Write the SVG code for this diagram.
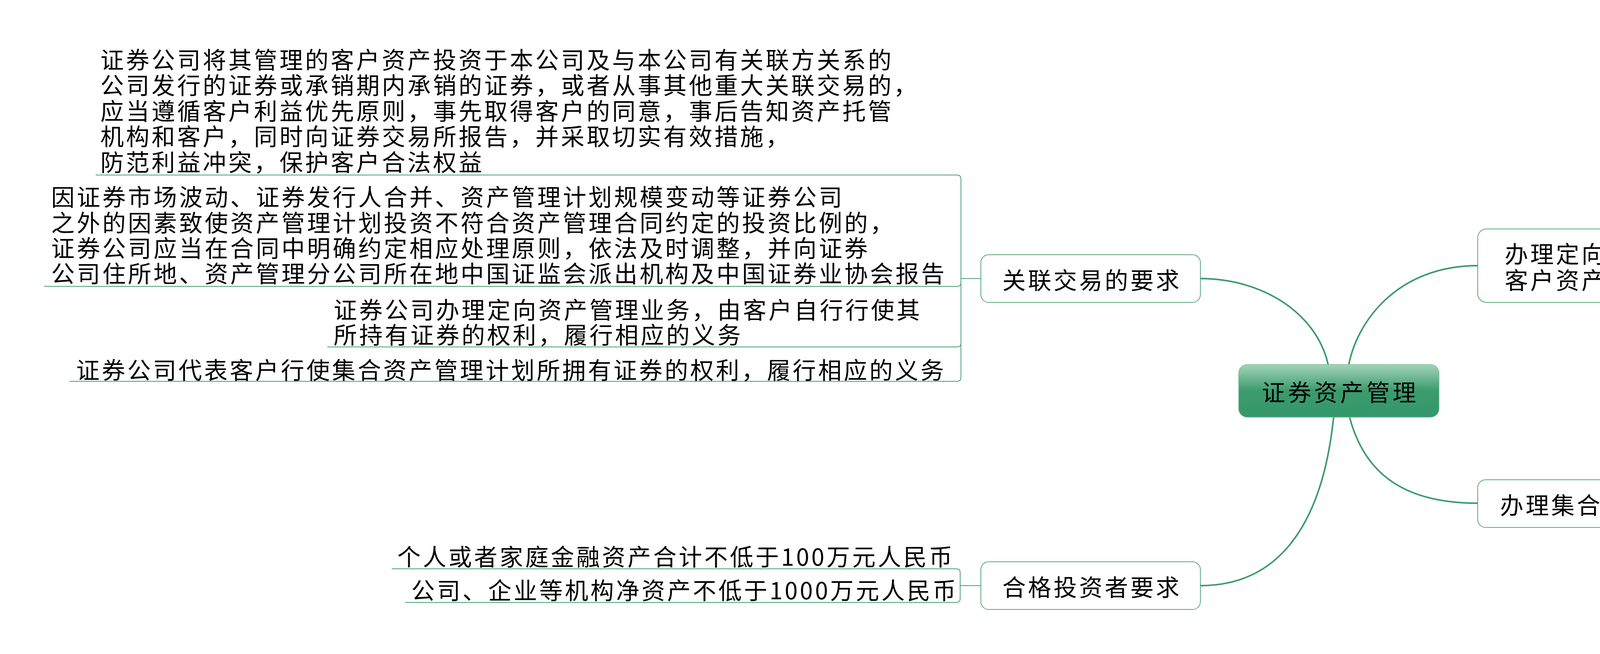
<svg xmlns="http://www.w3.org/2000/svg" width="6556" height="1674" viewBox="0 0 6556 1674">
<style>
.t{font-family:"Noto Sans CJK SC","Noto Sans CJK TC",sans-serif;font-size:60px;letter-spacing:5.5px;fill:#000;dominant-baseline:central}
.ct{font-family:"Noto Sans CJK SC","Noto Sans CJK TC",sans-serif;font-size:60px;letter-spacing:7px;fill:#000;dominant-baseline:central;text-anchor:middle}
.box{fill:#fff;stroke:#5aa982;stroke-width:2}
.main{fill:none;stroke:#3a9a6c;stroke-width:4}
.sub{fill:none;stroke:#4c9f79;stroke-width:2}
</style>
<defs>
<linearGradient id="g" x1="0" y1="0" x2="0" y2="1">
<stop offset="0" stop-color="#a2d4b8"/>
<stop offset="0.5" stop-color="#3b9b6c"/>
<stop offset="1" stop-color="#34986a"/>
</linearGradient>
</defs>
<rect width="6556" height="1674" fill="#fff"/>
<g id="connectors">
<path class="main" d="M3400,933 C3370,800 3230,713 3073,713"/>
<path class="main" d="M3453,933 C3475,820 3580,680 3783,680"/>
<path class="main" d="M3455,1068 C3490,1200 3580,1288 3783,1288"/>
<path class="main" d="M3414,1068 C3390,1300 3300,1499 3073,1499"/>
<path class="sub" d="M2511,713 H2460"/>
<path class="sub" d="M2460,713 V458 Q2460,448 2450,448 H245"/>
<path class="sub" d="M2460,713 V723 Q2460,733 2450,733 H113"/>
<path class="sub" d="M2460,713 V878 Q2460,888 2450,888 H838"/>
<path class="sub" d="M2460,713 V966 Q2460,976 2450,976 H178"/>
<path class="sub" d="M2511,1499 H2458"/>
<path class="sub" d="M2458,1499 V1466 Q2458,1456 2448,1456 H1003"/>
<path class="sub" d="M2458,1499 V1532 Q2458,1542 2448,1542 H1037"/>
<path class="sub" d="M4836,680 H4878 Q4884,680 4884,674 V668 Q4884,662 4890,662 H6440"/>
<path class="sub" d="M5005,1288 H5050 Q5056,1288 5056,1282 V1279 Q5056,1273 5062,1273 H6147"/>
</g>
<g id="root">
<rect x="3171" y="933" width="513" height="135" rx="22" fill="url(#g)" stroke="#7dbd9a" stroke-width="1.5"/>
<text class="ct" x="3431" y="1000">证券资产管理</text>
</g>
<g id="n-related">
<rect class="box" x="2511" y="652" width="562" height="122" rx="20"/>
<text class="t" x="2566" y="713">关联交易的要求</text>
</g>
<g id="n-qualified">
<rect class="box" x="2511" y="1438" width="562" height="122" rx="20"/>
<text class="t" x="2566" y="1499">合格投资者要求</text>
</g>
<g id="n-directed">
<rect class="box" x="3783" y="586" width="1053" height="188" rx="22"/>
<text class="t" x="3852" y="646">办理定向资产管理业务，接受</text>
<text class="t" x="3852" y="713">客户资产最低净值要求</text>
</g>
<g id="n-collective">
<rect class="box" x="3783" y="1228" width="1222" height="122" rx="20"/>
<text class="t" x="3840" y="1289">办理集合资产管理业务接受的资产形式</text>
</g>
<g id="c-related-1">
<text class="t" x="257" y="149">证券公司将其管理的客户资产投资于本公司及与本公司有关联方关系的</text>
<text class="t" x="257" y="214.5">公司发行的证券或承销期内承销的证券，或者从事其他重大关联交易的，</text>
<text class="t" x="257" y="280">应当遵循客户利益优先原则，事先取得客户的同意，事后告知资产托管</text>
<text class="t" x="257" y="345.5">机构和客户，同时向证券交易所报告，并采取切实有效措施，</text>
<text class="t" x="257" y="411">防范利益冲突，保护客户合法权益</text>
</g>
<g id="c-related-2">
<text class="t" x="131" y="500">因证券市场波动、证券发行人合并、资产管理计划规模变动等证券公司</text>
<text class="t" x="131" y="566">之外的因素致使资产管理计划投资不符合资产管理合同约定的投资比例的，</text>
<text class="t" x="131" y="631">证券公司应当在合同中明确约定相应处理原则，依法及时调整，并向证券</text>
<text class="t" x="131" y="696">公司住所地、资产管理分公司所在地中国证监会派出机构及中国证券业协会报告</text>
</g>
<g id="c-related-3">
<text class="t" x="854" y="789">证券公司办理定向资产管理业务，由客户自行行使其</text>
<text class="t" x="854" y="853">所持有证券的权利，履行相应的义务</text>
</g>
<g id="c-related-4">
<text class="t" x="195" y="943">证券公司代表客户行使集合资产管理计划所拥有证券的权利，履行相应的义务</text>
</g>
<g id="c-qualified-1">
<text class="t" x="1017" y="1421">个人或者家庭金融资产合计不低于100万元人民币</text>
</g>
<g id="c-qualified-2">
<text class="t" x="1053" y="1507">公司、企业等机构净资产不低于1000万元人民币</text>
</g>
<g id="c-directed-1">
<text class="t" x="4914" y="563">证券公司办理定向资产管理业务，接受单个客户的</text>
<text class="t" x="4914" y="626">资产净值不得低于人民币100万元</text>
</g>
<g id="c-collective-1">
<text class="t" x="5084" y="1175">证券公司办理集合资产管理业务，</text>
<text class="t" x="5084" y="1239">只能接受货币资金形式的资产</text>
</g>
</svg>
